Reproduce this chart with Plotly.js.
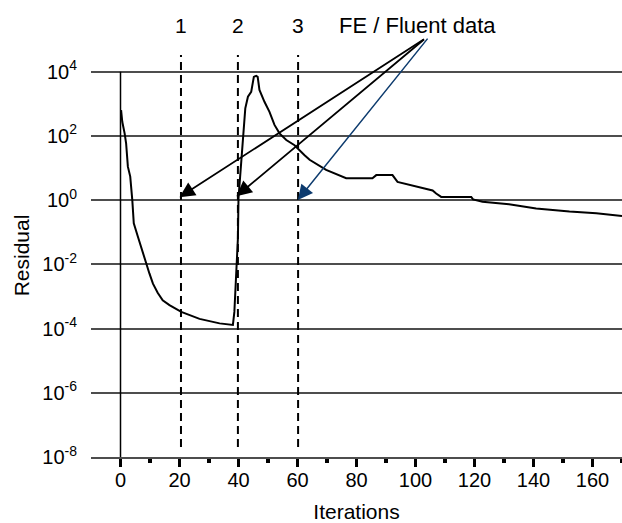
<!DOCTYPE html>
<html>
<head>
<meta charset="utf-8">
<script src="https://cdn.plot.ly/plotly-3.0.1.min.js"></script>
<style>html,body{margin:0;padding:0;background:#fff;}#chart{width:622px;height:523px;}</style>
</head>
<body>
<div id="chart"></div>
<script>
// Residual history
const iterations = [0.2, 0.6, 1.4, 1.9, 2.5, 3.3, 4.0, 4.5, 5.9, 7.6, 8.7, 9.8, 11.0, 12.6, 14.3, 16.6, 20.6, 26.8, 33.6, 38.1,
  38.6, 39.2, 39.8, 40.0, 40.7, 41.5, 42.3, 43.2, 44.3, 45.2, 46.0, 46.5, 47.1, 48.8, 50.5, 52.2, 53.9, 56.2, 59.0, 62.4,
  64.1, 69.7, 76.5, 85.4, 86.7, 92.2, 93.9, 105.8, 107.0, 108.7, 118.9, 119.5, 122.7, 131.7, 140.9, 152.2, 161.3, 170.0];
const residual = [630, 275, 120, 59, 11, 5.4, 1.0, 0.19, 0.072, 0.022, 0.011, 0.0052, 0.0025, 0.0013, 7.6e-4, 5.4e-4, 3.3e-4, 2.0e-4, 1.45e-4, 1.3e-4,
  3.3e-4, 3.6e-3, 0.065, 1.15, 9.8, 135, 720, 1660, 2340, 6900, 7400, 6900, 2700, 1150, 560, 220, 120, 74, 51, 25,
  18, 8.7, 4.8, 4.8, 6.0, 6.0, 3.7, 2.0, 1.6, 1.26, 1.26, 1.05, 0.89, 0.74, 0.55, 0.44, 0.39, 0.32];

const xTickVals = [0, 20, 40, 60, 80, 100, 120, 140, 160];
const xMinorVals = [10, 30, 50, 70, 90, 110, 130, 150, 170];
const yTickVals = [1e-8, 1e-6, 1e-4, 1e-2, 1e0, 1e2, 1e4];
const yTickText = ['10<sup>-8</sup>', '10<sup>-6</sup>', '10<sup>-4</sup>', '10<sup>-2</sup>', '10<sup>0</sup>', '10<sup>2</sup>', '10<sup>4</sup>'];

// Marked iterations (dashed lines) and their labels
const markerIters = [20.5, 39.8, 60.2];
const markerLabels = ['1', '2', '3'];
// Arrow targets (iteration, log10 residual) and colours
const arrowIters = [20.0, 39.3, 60.1];
const arrowLogRes = [0.09, 0.12, 0.0];
const arrowColors = ['#000000', '#000000', '#0d3b6e'];
const arrowAx = [246, 189, 131];
const arrowAy = [-159, -158, -163];
const noteText = 'FE / Fluent data';
const noteIter = 100.7;

const FONT = 'Liberation Sans, Arial, Helvetica, sans-serif';

const shapes = [];
// y axis line (from 10^-8 to 10^4)
shapes.push({type: 'line', xref: 'x', yref: 'y', x0: 0, x1: 0, y0: 1e-8, y1: 1e4,
  line: {color: '#000', width: 1.5}, layer: 'above'});
markerIters.forEach(function (xv) {
  shapes.push({type: 'line', xref: 'x', yref: 'y', x0: xv, x1: xv, y0: 2.05e-8, y1: 3.3e4,
    line: {color: '#000', width: 2, dash: '8px,5px'}, layer: 'above'});
});

const annotations = [];
markerIters.forEach(function (xv, i) {
  annotations.push({xref: 'x', yref: 'paper', x: xv, y: 1, yanchor: 'middle', yshift: 29,
    text: markerLabels[i], showarrow: false, font: {family: FONT, size: 21, color: '#000'}});
});
annotations.push({xref: 'x', yref: 'paper', x: noteIter, y: 1, yanchor: 'middle', yshift: 29,
  text: noteText, showarrow: false, font: {family: FONT, size: 22, color: '#000'}});
arrowIters.forEach(function (xv, i) {
  annotations.push({xref: 'x', yref: 'y', x: xv, y: arrowLogRes[i], ax: arrowAx[i], ay: arrowAy[i],
    axref: 'pixel', ayref: 'pixel', text: '', showarrow: true, arrowhead: 2,
    arrowwidth: i === 2 ? 1.5 : 1.8, arrowsize: i === 2 ? 2.0 : 1.7, arrowcolor: arrowColors[i], standoff: 0});
});

const trace = {
  x: iterations, y: residual, type: 'scatter', mode: 'lines',
  line: {color: '#000', width: 2}, hoverinfo: 'skip', showlegend: false
};

const layout = {
  width: 622, height: 523,
  margin: {l: 91, r: 0, t: 54, b: 66},
  paper_bgcolor: '#fff', plot_bgcolor: '#fff',
  font: {family: FONT, size: 20, color: '#000'},
  showlegend: false,
  xaxis: {
    range: [-10, 170], tickmode: 'array', tickvals: xTickVals,
    ticks: 'outside', ticklen: 8, tickwidth: 3.5, tickcolor: '#000',
    minor: {tickmode: 'array', tickvals: xMinorVals, ticks: 'outside', ticklen: 4, tickwidth: 4, tickcolor: '#000', showgrid: false},
    showgrid: false, zeroline: false, showline: true, linecolor: '#4d4d4d', linewidth: 2,
    ticklabelstandoff: -4,
    tickfont: {family: FONT, size: 20, color: '#000'},
    title: {text: 'Iterations', font: {family: FONT, size: 21, color: '#000'}, standoff: 14},
    fixedrange: true
  },
  yaxis: {
    type: 'log', range: [-8, 4.55], tickmode: 'array', tickvals: yTickVals, ticktext: yTickText,
    ticks: '', showgrid: true, gridcolor: '#4d4d4d', gridwidth: 2, zeroline: false, showline: false,
    ticklabelstandoff: 13,
    tickfont: {family: FONT, size: 20, color: '#000'},
    title: {text: 'Residual', font: {family: FONT, size: 21, color: '#000'}, standoff: 6},
    fixedrange: true
  },
  shapes: shapes,
  annotations: annotations
};

Plotly.newPlot('chart', [trace], layout, {displayModeBar: false, staticPlot: true});
</script>
</body>
</html>
